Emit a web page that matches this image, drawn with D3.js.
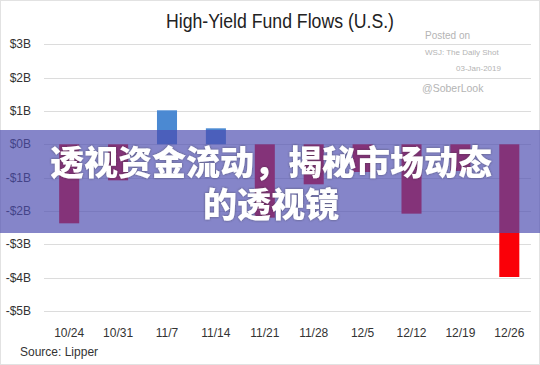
<html lang="en">
<head>
    <meta charset="UTF-8">
    <title>High-Yield Fund Flows</title>
    <style>
        body { margin: 0; background: #fff; }
        text { font-family: "Liberation Sans", Arial, sans-serif; }
        .grid line { stroke: #dcdcdc; stroke-width: 1px; }
        .tick-label { font-size: 12px; fill: #333; }
        .banner-text {
          font-family: "Noto Sans CJK SC", sans-serif;
          font-weight: 900;
          font-size: 34px;
          fill: #fff;
        }
    </style>
</head>
<body>
    <svg></svg>
    <script src="https://cdnjs.cloudflare.com/ajax/libs/d3/7.8.5/d3.min.js"></script>
    <script>

    var width = 540,
        height = 365;

    var weeks = ["10/24", "10/31", "11/7", "11/14", "11/21", "11/28", "12/5", "12/12", "12/19", "12/26"];
    var flows = [-2.37, -1.08, 1.02, 0.48, -2.2, -1.2, -0.83, -2.08, -0.8, -3.98];
    var yTicks = [3, 2, 1, 0, -1, -2, -3, -4, -5];
    var bannerLines = ["透视资金流动，揭秘市场动态", "的透视镜"];

    var svg = d3.select("svg")
      .attr("width", width)
      .attr("height", height);

    svg.append("rect")
      .attr("x", 0.5).attr("y", 0.5)
      .attr("width", width - 1).attr("height", height - 1)
      .attr("fill", "#fff")
      .attr("stroke", "#e2e2e2");

    var x = d3.scaleBand()
      .domain(weeks)
      .range([44.5, 534])
      .paddingInner(0.59)
      .paddingOuter(0.3);

    var y = d3.scaleLinear()
      .domain([-5, 3])
      .range([311, 44.3]);

    // title
    svg.append("text")
      .attr("x", 280)
      .attr("y", 28)
      .attr("text-anchor", "middle")
      .attr("textLength", 228)
      .attr("lengthAdjust", "spacingAndGlyphs")
      .style("font-size", "20px")
      .style("fill", "#222")
      .text("High-Yield Fund Flows (U.S.)");

    // gridlines
    svg.append("g")
      .attr("class", "grid")
      .selectAll("line")
      .data(yTicks)
      .enter()
      .append("line")
        .attr("x1", 44)
        .attr("x2", 531)
        .attr("y1", function(d) { return Math.round(y(d)) + 0.5; })
        .attr("y2", function(d) { return Math.round(y(d)) + 0.5; });

    // y labels
    svg.append("g")
      .selectAll("text")
      .data(yTicks)
      .enter()
      .append("text")
        .attr("class", "tick-label")
        .attr("x", 31)
        .attr("y", function(d) { return y(d) + 4; })
        .attr("text-anchor", "end")
        .text(function(d) { return (d < 0 ? "-$" : "$") + Math.abs(d) + "B"; });

    // x labels
    svg.append("g")
      .selectAll("text")
      .data(weeks)
      .enter()
      .append("text")
        .attr("class", "tick-label")
        .attr("x", function(d) { return x(d) + x.bandwidth() / 2; })
        .attr("y", 337)
        .attr("text-anchor", "middle")
        .text(function(d) { return d; });

    // bars
    svg.append("g")
      .selectAll("rect")
      .data(flows)
      .enter()
      .append("rect")
        .attr("x", function(d, i) { return x(weeks[i]); })
        .attr("width", x.bandwidth())
        .attr("y", function(d) { return y(Math.max(d, 0)); })
        .attr("height", function(d) { return Math.abs(y(d) - y(0)); })
        .attr("fill", function(d) { return d > 0 ? "#4b89d2" : "#fa0008"; });

    // watermark
    var marks = [
      { t: "Posted on", x: 425, y: 39, s: 10 },
      { t: "WSJ: The Daily Shot", x: 425, y: 55, s: 8 },
      { t: "03-Jan-2019", x: 456, y: 71, s: 8 },
      { t: "@SoberLook", x: 422, y: 92, s: 10.5 }
    ];
    svg.append("g")
      .selectAll("text")
      .data(marks)
      .enter()
      .append("text")
        .attr("x", function(d) { return d.x; })
        .attr("y", function(d) { return d.y; })
        .style("font-size", function(d) { return d.s + "px"; })
        .style("fill", "#b4b4b4")
        .text(function(d) { return d.t; });

    svg.append("text")
      .attr("class", "tick-label")
      .attr("x", 20)
      .attr("y", 356)
      .text("Source: Lipper");

    // banner overlay
    svg.append("rect")
      .attr("x", 0)
      .attr("y", 130)
      .attr("width", width)
      .attr("height", 103)
      .attr("fill", "rgb(75,75,176)")
      .attr("fill-opacity", 0.68);

    var defs = svg.append("defs");
    var f = defs.append("filter").attr("id", "shadow");
    f.append("feDropShadow")
      .attr("dx", 0).attr("dy", 0)
      .attr("stdDeviation", 1.2)
      .attr("flood-color", "#333")
      .attr("flood-opacity", 0.6);

    svg.append("g")
      .selectAll("text")
      .data(bannerLines)
      .enter()
      .append("text")
        .attr("class", "banner-text")
        .attr("x", 271)
        .attr("y", function(d, i) { return 175 + i * 42; })
        .attr("text-anchor", "middle")
        .attr("filter", "url(#shadow)")
        .text(function(d) { return d; });

    </script>
</body>
</html>
